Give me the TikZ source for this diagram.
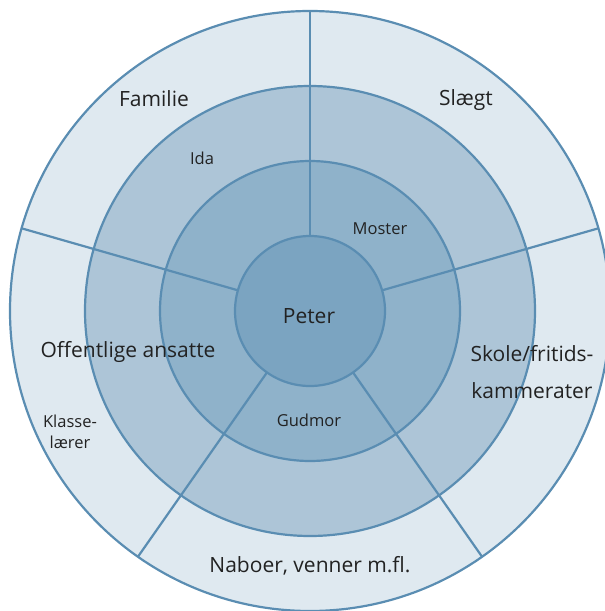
\documentclass[tikz,border=0pt]{standalone}
\usepackage{fontspec}
\setmainfont{Open Sans}
\definecolor{ringA}{HTML}{DFE9F0}
\definecolor{ringB}{HTML}{ADC5D7}
\definecolor{ringC}{HTML}{8FB2CA}
\definecolor{ringD}{HTML}{7BA4C1}
\definecolor{edge}{HTML}{5A8DB2}
\definecolor{ink}{HTML}{222222}
\tikzset{
  ring/.style={circle, draw=edge, line width=2.2pt, inner sep=0pt, outer sep=0pt, minimum size=#1},
  spoke/.style={draw=edge, line width=2.2pt},
  biglabel/.style={text=ink, font=\fontsize{21}{37}\selectfont, inner sep=0pt, align=center},
  smalllabel/.style={text=ink, font=\fontsize{16.5}{21}\selectfont, inner sep=0pt, align=center}
}
\begin{document}
\begin{tikzpicture}[x=1pt,y=-1pt]
\useasboundingbox (0,0) rectangle (605,611);
\clip (0,0) rectangle (605,611);
\node[ring=600pt, fill=ringA] (outer) at (310,311) {};
\node[ring=450pt, fill=ringB] (third) at (310,311) {};
\node[ring=300pt, fill=ringC] (second) at (310,311) {};
\foreach \a in {90,16,-55,-125,164} {
  \path[spoke] (310,311) ++(\a:75pt) coordinate (s\a) -- (outer.\a);
}
\node[ring=150pt, fill=ringD] (peter) at (310,311) {};
\node[biglabel] (peterlbl) at (309,316) {Peter};
\node[biglabel] (familie) at (154,99) {Familie};
\node[biglabel] (slaegt) at (466,100) {Slægt};
\node[smalllabel] (ida) at (202,158) {Ida};
\node[smalllabel] (moster) at (380,229) {Moster};
\node[biglabel] (offentlige) at (128,352) {Offentlige ansatte};
\node[biglabel] (skole) at (532,372) {Skole/fritids-\\kammerater};
\node[smalllabel] (gudmor) at (309,420) {Gudmor};
\node[smalllabel] (klasse) at (70,432) {Klasse-\\lærer};
\node[biglabel] (naboer) at (310,566) {Naboer, venner m.fl.};
\end{tikzpicture}
\end{document}
